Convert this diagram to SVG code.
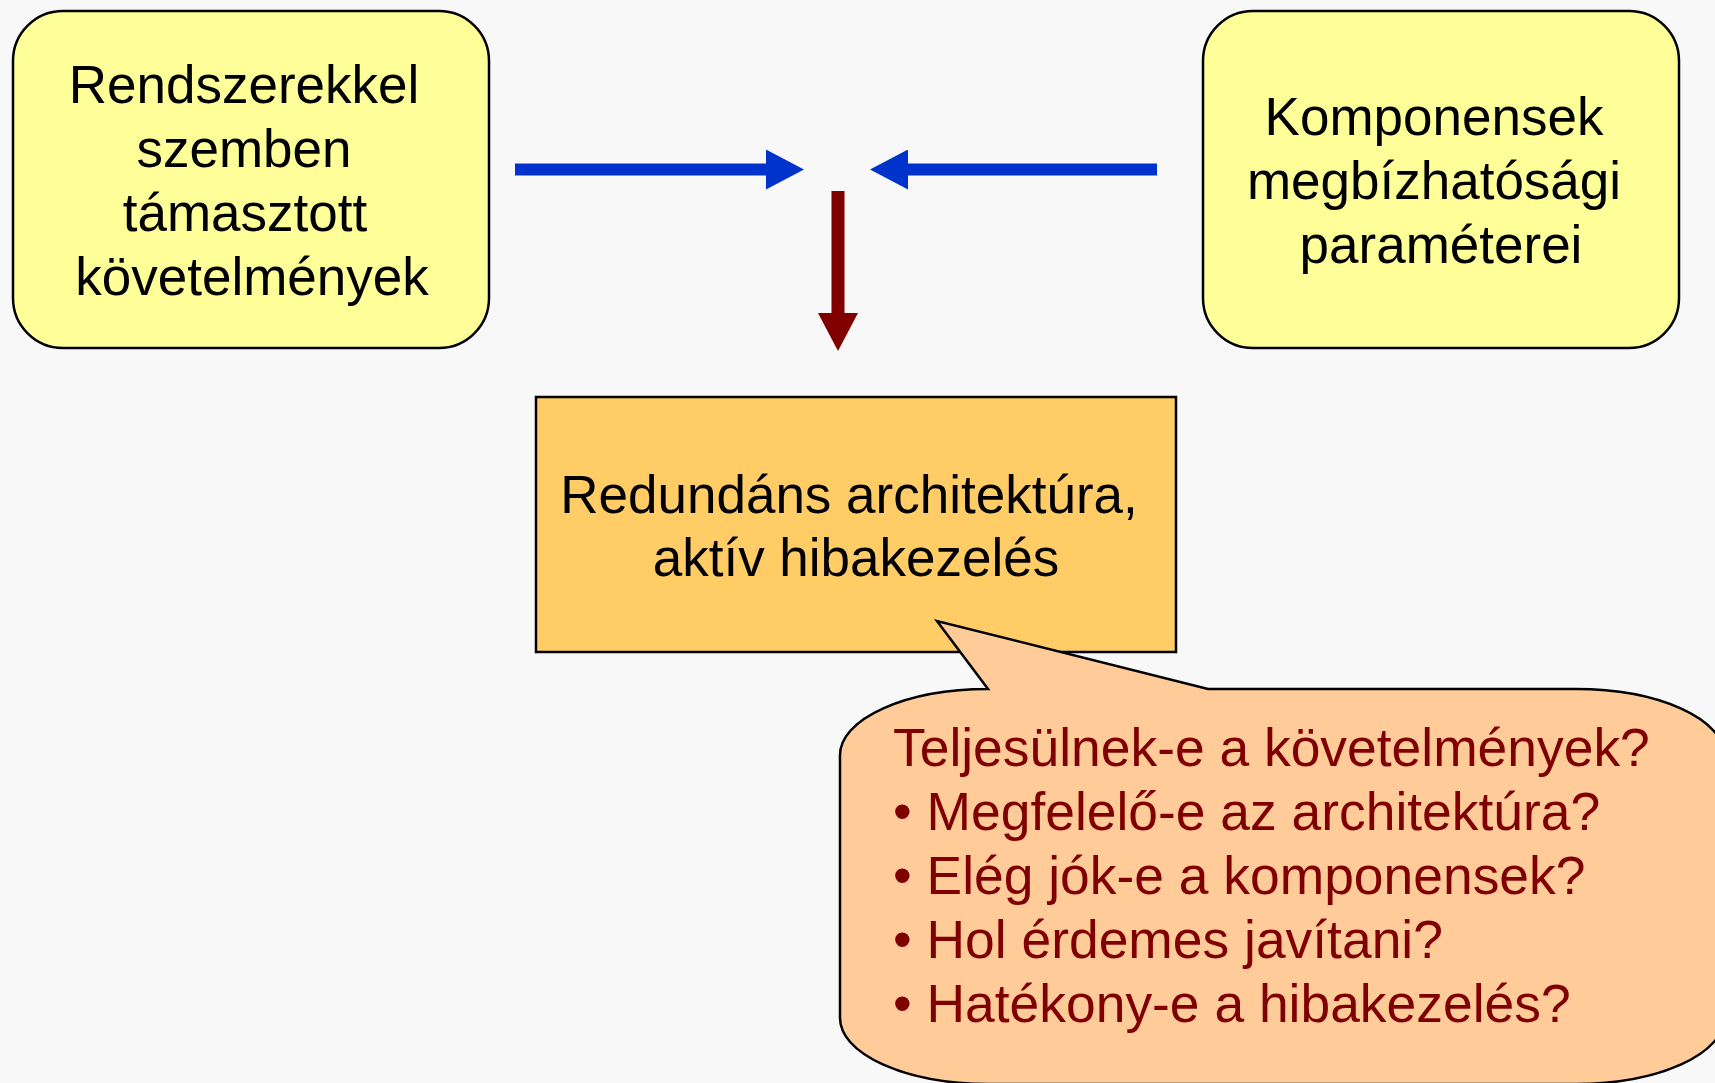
<svg xmlns="http://www.w3.org/2000/svg" width="1715" height="1083" viewBox="0 0 1715 1083">
  <style>
    .lbl { font-family: "Liberation Sans", Arial, sans-serif; font-size: 53px; fill: #000000; text-anchor: middle; }
    .q { font-family: "Liberation Sans", Arial, sans-serif; font-size: 53.4px; fill: #800000; }
    .req { fill: #FFFF99; stroke: #000000; stroke-width: 2.5; }
    .arch { fill: #FFCC66; stroke: #000000; stroke-width: 2.5; }
    .bubble { fill: #FFCC99; stroke: #000000; stroke-width: 2.5; stroke-linejoin: miter; }
    .flow-in { stroke: #0033CC; stroke-width: 12; fill: none; }
    .flow-out { stroke: #800000; stroke-width: 13; fill: none; }
  </style>
  <defs>
    <marker id="head-blue" viewBox="0 0 38 40" refX="0" refY="20" markerWidth="38" markerHeight="40" markerUnits="userSpaceOnUse" orient="auto">
      <path d="M0,0 L38,20 L0,40 Z" fill="#0033CC"/>
    </marker>
    <marker id="head-red" viewBox="0 0 38 40" refX="0" refY="20" markerWidth="38" markerHeight="40" markerUnits="userSpaceOnUse" orient="auto">
      <path d="M0,0 L38,20 L0,40 Z" fill="#800000"/>
    </marker>
  </defs>

  <rect width="1715" height="1083" fill="#F8F8F8"/>

  <!-- requirements box -->
  <g id="node-requirements">
    <rect class="req" x="13" y="11" width="476" height="337" rx="50" ry="50"/>
    <text class="lbl" x="244" y="103">Rendszerekkel</text>
    <text class="lbl" x="244" y="167">szemben</text>
    <text class="lbl" x="245" y="231">támasztott</text>
    <text class="lbl" x="252" y="295">követelmények</text>
  </g>

  <!-- component parameters box -->
  <g id="node-components">
    <rect class="req" x="1203" y="11" width="476" height="337" rx="50" ry="50"/>
    <text class="lbl" x="1434" y="135">Komponensek</text>
    <text class="lbl" x="1434" y="199">megbízhatósági</text>
    <text class="lbl" x="1441" y="263">paraméterei</text>
  </g>

  <!-- architecture box -->
  <g id="node-architecture">
    <rect class="arch" x="536" y="397" width="640" height="255"/>
    <text class="lbl" x="849" y="513">Redundáns architektúra,</text>
    <text class="lbl" x="856" y="576">aktív hibakezelés</text>
  </g>

  <!-- arrows -->
  <g id="connectors">
    <line class="flow-in" x1="515" y1="169.5" x2="766" y2="169.5" marker-end="url(#head-blue)"/>
    <line class="flow-in" x1="1157" y1="169.5" x2="908" y2="169.5" marker-end="url(#head-blue)"/>
    <line class="flow-out" x1="838" y1="191" x2="838" y2="313" marker-end="url(#head-red)"/>
  </g>

  <!-- question callout -->
  <g id="node-questions">
    <path class="bubble" d="M988,689 L937,621 L1208,689 L1576,689 A148,66 0 0 1 1724,755 L1724,1018 A148,66 0 0 1 1576,1084 L988,1084 A148,66 0 0 1 840,1018 L840,755 A148,66 0 0 1 988,689 Z"/>
    <text class="q" x="893" y="766">Teljesülnek-e a követelmények?</text>
    <text class="q" x="893" y="830">• Megfelelő-e az architektúra?</text>
    <text class="q" x="893" y="894">• Elég jók-e a komponensek?</text>
    <text class="q" x="893" y="958">• Hol érdemes javítani?</text>
    <text class="q" x="893" y="1022">• Hatékony-e a hibakezelés?</text>
  </g>
</svg>
